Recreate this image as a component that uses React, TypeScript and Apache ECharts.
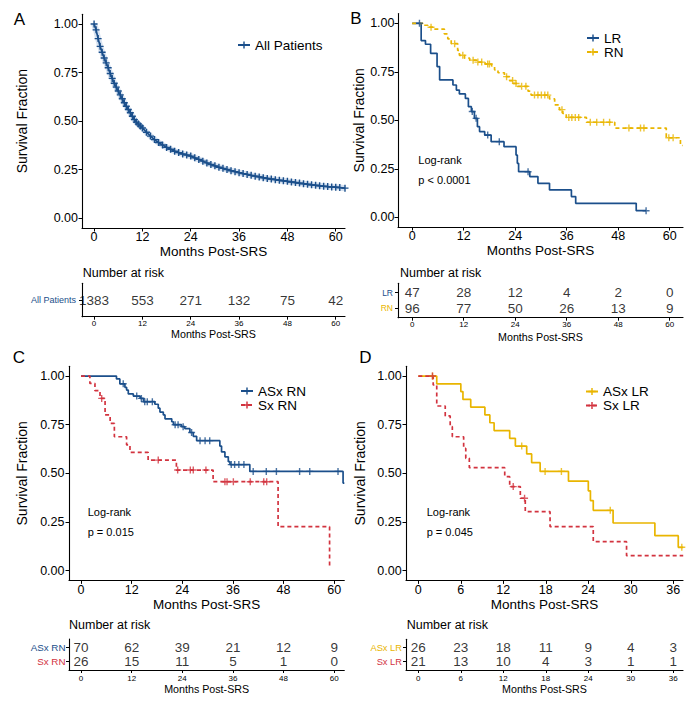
import React, { useEffect, useRef } from "react";
import * as echarts from "echarts";

const BLUE = "#1B4F8B";
const YELLOW = "#E9B500";
const RED = "#D2333F";
const BAND = "#B9CDE6";
const FONT = '"Liberation Sans", Arial, Helvetica, sans-serif';
const PLUS = "path://M4,0H6V4H10V6H6V10H4V6H0V4H4Z";

const ticks60 = [0, 12, 24, 36, 48, 60];
const ticks36 = [0, 6, 12, 18, 24, 30, 36];
const yTicks = [0, 0.25, 0.5, 0.75, 1];

// Panel A
const allPatientsCurve: [number, number][] = [
  [0, 1.0], [0.5, 0.97], [1.0, 0.925], [1.5, 0.885], [2.0, 0.855], [2.5, 0.825], [3.0, 0.8], [3.5, 0.775],
  [4.0, 0.745], [4.5, 0.72], [5.0, 0.695], [5.5, 0.675], [6.0, 0.655], [6.5, 0.635], [7.0, 0.615], [7.5, 0.595],
  [8.0, 0.577], [8.5, 0.56], [9.0, 0.543], [9.5, 0.525], [10.0, 0.508], [10.5, 0.495], [11.0, 0.485], [11.5, 0.475],
  [12.0, 0.465], [13, 0.443], [14, 0.423], [15, 0.405], [16, 0.39], [17, 0.377], [18, 0.365], [19, 0.355],
  [20, 0.345], [21, 0.338], [22, 0.331], [23, 0.326], [24, 0.32], [25, 0.311], [26, 0.303], [27, 0.294], [28, 0.285],
  [29, 0.277], [30, 0.27], [31, 0.263], [32, 0.257], [33, 0.251], [34, 0.245], [35, 0.24], [36, 0.235], [37, 0.23],
  [38, 0.226], [39, 0.221], [40, 0.217], [41, 0.213], [42, 0.209], [43, 0.205], [44, 0.202], [45, 0.199], [46, 0.196],
  [47, 0.193], [48, 0.19], [49, 0.187], [50, 0.184], [51, 0.181], [52, 0.178], [53, 0.175], [54, 0.172], [55, 0.17],
  [56, 0.167], [57, 0.165], [58, 0.163], [59, 0.161], [60, 0.16], [61, 0.158], [62.3, 0.155],
];
const riskAllPatients = [1383, 553, 271, 132, 75, 42];

// Panel B
const lrSteps: [number, number][] = [
  [0, 1], [2.1, 0.911], [3.1, 0.892], [4.3, 0.845], [5.8, 0.777], [6.4, 0.708], [9.5, 0.682], [10.3, 0.656],
  [11.0, 0.636], [12.4, 0.613], [13.1, 0.57], [13.8, 0.545], [14.5, 0.51], [15.2, 0.467], [15.7, 0.442],
  [16.9, 0.424], [18.4, 0.39], [21.4, 0.364], [24.2, 0.321], [24.5, 0.278], [24.8, 0.235], [27.4, 0.21],
  [29.3, 0.175], [32.0, 0.141], [37.1, 0.107], [38.1, 0.072], [52.2, 0.034], [54.5, 0.034],
];
const lrCensor = [1.7, 14.0, 14.9, 17.6, 20.3, 27.0, 54.5];
const rnSteps: [number, number][] = [
  [0, 1], [2.5, 0.99], [3.65, 0.98], [4.8, 0.97], [7.5, 0.945], [8.3, 0.92], [9.1, 0.895], [10.6, 0.86],
  [11.0, 0.835], [12.2, 0.82], [13.4, 0.81], [15.0, 0.8], [17.0, 0.79], [18.5, 0.78], [19.2, 0.76], [20.0, 0.745],
  [21.5, 0.725], [22.7, 0.705], [23.5, 0.69], [24.5, 0.675], [27.0, 0.65], [27.7, 0.63], [32.0, 0.61],
  [33.2, 0.58], [34.3, 0.555], [35.1, 0.535], [35.9, 0.515], [40.6, 0.49], [47.2, 0.46], [59.2, 0.41],
  [62.5, 0.37], [63, 0.37],
];
const rnCensor = [
  4.4, 9.9, 11.8, 14.2, 15.3, 16.2, 17.6, 18.0, 22.0, 23.4, 24.2, 25.5, 26.5, 28.5, 29.3, 30.1, 30.9, 31.6,
  34.9, 36.5, 37.2, 38.0, 38.8, 41.5, 43.0, 44.6, 46.0, 50.5, 53.2, 54.0, 59.8, 60.8,
];
const riskLR = [47, 28, 12, 4, 2, 0];
const riskRN = [96, 77, 50, 26, 13, 9];

// Panel C
const asxRnSteps: [number, number][] = [
  [0, 1], [8.4, 0.985], [9.2, 0.96], [10.4, 0.942], [10.8, 0.928], [11.2, 0.908], [12.4, 0.897], [14.0, 0.885],
  [14.8, 0.868], [17.5, 0.855], [18.3, 0.835], [18.7, 0.815], [19.5, 0.8], [19.9, 0.78], [21.5, 0.765],
  [21.9, 0.75], [23.8, 0.74], [24.6, 0.73], [25.8, 0.71], [26.6, 0.69], [27.4, 0.668], [32.9, 0.64],
  [33.3, 0.61], [34.1, 0.585], [34.9, 0.56], [35.3, 0.545], [40.0, 0.51], [62.1, 0.45], [62.4, 0.45],
];
const asxRnCensor = [
  10.0, 13.2, 14.3, 15.1, 15.7, 16.9, 22.3, 23.0, 24.2, 26.2, 28.2, 29.4, 30.5, 35.6, 36.4, 37.4, 38.6, 40.8,
  43.9, 46.3, 51.8, 54.2, 60.9,
];
const sxRnSteps: [number, number][] = [
  [0, 1], [2.1, 0.962], [3.3, 0.925], [4.5, 0.885], [5.7, 0.8], [6.9, 0.757], [7.9, 0.688], [10.8, 0.646],
  [11.6, 0.608], [15.9, 0.568], [22.6, 0.517], [31.3, 0.457], [46.7, 0.226], [58.9, 0.02],
];
const sxRnCensor = [4.9, 18.3, 22.9, 25.9, 26.6, 29.6, 34.1, 34.6, 36.1, 40.1, 43.3, 44.0];
const riskASxRN = [70, 62, 39, 21, 12, 9];
const riskSxRN = [26, 15, 11, 5, 1, 0];

// Panel D
const asxLrSteps: [number, number][] = [
  [0, 1], [2.6, 0.96], [6.0, 0.92], [6.3, 0.88], [7.4, 0.84], [9.4, 0.8], [10.1, 0.76], [10.7, 0.72],
  [12.9, 0.68], [13.7, 0.64], [15.3, 0.6], [16.0, 0.555], [17.2, 0.51], [21.2, 0.46], [24.0, 0.41],
  [24.3, 0.36], [24.7, 0.31], [27.5, 0.245], [33.4, 0.18], [36.7, 0.12], [37.4, 0.12],
];
const asxLrCensor = [2.0, 14.6, 17.9, 20.2, 27.1, 37.2];
const sxLrSteps: [number, number][] = [
  [0, 1], [2.1, 0.954], [2.6, 0.846], [3.8, 0.795], [4.5, 0.74], [4.8, 0.688], [6.4, 0.628], [6.7, 0.577],
  [7.2, 0.529], [12.2, 0.483], [12.9, 0.432], [14.4, 0.372], [15.1, 0.303], [18.6, 0.226], [24.7, 0.149],
  [29.4, 0.077], [37.4, 0.077],
];
const sxLrCensor = [2.0, 13.4, 15.0];
const riskASxLR = [26, 23, 18, 11, 9, 4, 3];
const riskSxLR = [21, 13, 10, 4, 3, 1, 1];

function stepAt(steps: [number, number][], t: number) {
  let v = steps[0][1];
  for (const [x, y] of steps) {
    if (x <= t) v = y;
    else break;
  }
  return v;
}

type Group = {
  name: string;
  curve: [number, number][];
  censor: number[] | null;
  color: string;
  dashed: boolean;
  risk: number[];
  smooth?: boolean;
};

const panels = [
  {
    letter: "A", letterX: 19.5, letterY: 19,
    grid: { left: 82, top: 14.3, width: 263, height: 213.7 }, xMin: -3.0, xMax: 62.3, ticks: ticks60,
    xLabelMargin: 2.5, xNameGap: 13.5, yNameGap: 53, yLabelMargin: 4,
    legend: { left: 237, top: 38 },
    logrank: null as null | { x: number; y: number; p: string },
    groups: [
      { name: "All Patients", curve: allPatientsCurve, censor: null, color: BLUE, dashed: false, risk: riskAllPatients, smooth: true },
    ] as Group[],
    risk: { left: 82, top: 283.3, width: 263, height: 33.4, labelFont: 9, labelMargin: 6, xLabelMargin: 3, xNameGap: 9, titleX: 82.7, titleY: 273 },
  },
  {
    letter: "B", letterX: 356, letterY: 18,
    grid: { left: 398, top: 13.6, width: 285, height: 213.4 }, xMin: -3.3, xMax: 63.1, ticks: ticks60,
    xLabelMargin: 2.5, xNameGap: 14, yNameGap: 31, yLabelMargin: 3.5,
    legend: { left: 586, top: 31 },
    logrank: { x: 418.3, y: 160, p: "p < 0.0001" },
    groups: [
      { name: "LR", curve: lrSteps, censor: lrCensor, color: BLUE, dashed: false, risk: riskLR },
      { name: "RN", curve: rnSteps, censor: rnCensor, color: YELLOW, dashed: true, risk: riskRN },
    ] as Group[],
    risk: { left: 398, top: 283.3, width: 285, height: 34.4, labelFont: 8.5, labelMargin: 5, xLabelMargin: 3, xNameGap: 13.6, titleX: 400, titleY: 272.7 },
  },
  {
    letter: "C", letterX: 19, letterY: 357.5,
    grid: { left: 69, top: 366.3, width: 275.3, height: 214.1 }, xMin: -2.85, xMax: 62.39, ticks: ticks60,
    xLabelMargin: 3.3, xNameGap: 15.4, yNameGap: 40, yLabelMargin: 4.5,
    legend: { left: 240, top: 384 },
    logrank: { x: 87.7, y: 512.3, p: "p = 0.015" },
    groups: [
      { name: "ASx RN", curve: asxRnSteps, censor: asxRnCensor, color: BLUE, dashed: false, risk: riskASxRN },
      { name: "Sx RN", curve: sxRnSteps, censor: sxRnCensor, color: RED, dashed: true, risk: riskSxRN },
    ] as Group[],
    risk: { left: 69, top: 639, width: 275.3, height: 31, labelFont: 9.8, labelMargin: 3.5, xLabelMargin: 4.5, xNameGap: 13.3, titleX: 69, titleY: 625 },
  },
  {
    letter: "D", letterX: 365.5, letterY: 357.5,
    grid: { left: 406, top: 366.3, width: 277, height: 214.1 }, xMin: -1.74, xMax: 37.37, ticks: ticks36,
    xLabelMargin: 3.3, xNameGap: 15.4, yNameGap: 39, yLabelMargin: 4.3,
    legend: { left: 585, top: 384.5 },
    logrank: { x: 426.7, y: 512.3, p: "p = 0.045" },
    groups: [
      { name: "ASx LR", curve: asxLrSteps, censor: asxLrCensor, color: YELLOW, dashed: false, risk: riskASxLR },
      { name: "Sx LR", curve: sxLrSteps, censor: sxLrCensor, color: RED, dashed: true, risk: riskSxLR },
    ] as Group[],
    risk: { left: 406, top: 639.3, width: 277, height: 30.7, labelFont: 9.3, labelMargin: 4, xLabelMargin: 4.5, xNameGap: 13.3, titleX: 406.7, titleY: 625 },
  },
];

function buildOption() {
  const grid: any[] = [];
  const xAxis: any[] = [];
  const yAxis: any[] = [];
  const series: any[] = [];
  const legend: any[] = [];
  const graphic: any[] = [];
  const axisLine = { show: true, onZero: false, lineStyle: { color: "#000", width: 1.1 } };

  panels.forEach((p) => {
    // main plot
    const gi = grid.length;
    grid.push({ ...p.grid });
    xAxis.push({
      gridIndex: gi, type: "value", min: p.xMin, max: p.xMax,
      axisLine, splitLine: { show: false },
      axisTick: { show: true, length: 3.5, customValues: p.ticks, lineStyle: { color: "#000", width: 1 } },
      axisLabel: { customValues: p.ticks, margin: p.xLabelMargin, fontSize: 12.5, color: "#000", fontFamily: FONT },
      name: "Months Post-SRS", nameLocation: "middle", nameGap: p.xNameGap,
      nameTextStyle: { fontSize: 13.5, color: "#000", fontFamily: FONT },
    });
    yAxis.push({
      gridIndex: gi, type: "value", min: -0.05, max: 1.05,
      axisLine, splitLine: { show: false },
      axisTick: { show: true, length: 3.5, customValues: yTicks, lineStyle: { color: "#000", width: 1 } },
      axisLabel: {
        customValues: yTicks, margin: p.yLabelMargin, fontSize: 12.5, color: "#000", fontFamily: FONT,
        formatter: (v: number) => v.toFixed(2),
      },
      name: "Survival Fraction", nameLocation: "middle", nameGap: p.yNameGap,
      nameTextStyle: { fontSize: 14, color: "#000", fontFamily: FONT },
    });
    p.groups.forEach((g) => {
      if (g.smooth) {
        series.push({
          type: "line", name: g.name + " band", xAxisIndex: gi, yAxisIndex: gi, data: g.curve,
          showSymbol: false, silent: true, z: 1,
          lineStyle: { color: BAND, width: 6, opacity: 0.6 }, itemStyle: { color: BAND },
        });
      }
      series.push({
        type: "line", name: g.name, xAxisIndex: gi, yAxisIndex: gi, data: g.curve,
        step: g.smooth ? false : "end",
        symbol: PLUS, symbolSize: 7, showSymbol: !!g.smooth, z: 2,
        lineStyle: { color: g.color, width: 1.7, type: g.dashed ? [4, 3] : "solid" },
        itemStyle: { color: g.color },
      });
      if (g.censor) {
        series.push({
          type: "scatter", name: g.name + " censored", xAxisIndex: gi, yAxisIndex: gi, z: 3,
          data: g.censor.map((t) => [t, stepAt(g.curve, t)]),
          symbol: PLUS, symbolSize: 7, itemStyle: { color: g.color },
        });
      }
    });
    legend.push({
      data: p.groups.map((g) => g.name), orient: "vertical", left: p.legend.left, top: p.legend.top,
      padding: 0, itemGap: 0, itemWidth: 12, itemHeight: 9, selectedMode: false,
      textStyle: { fontSize: 13.5, lineHeight: 14, color: "#000", fontFamily: FONT },
    });
    graphic.push({
      type: "text", x: p.letterX, y: p.letterY,
      style: { text: p.letter, fontSize: 17, fontFamily: FONT, fill: "#000", align: "center", verticalAlign: "middle" },
    });
    if (p.logrank) {
      graphic.push({
        type: "text", x: p.logrank.x, y: p.logrank.y,
        style: { text: "Log-rank", fontSize: 11, fontFamily: FONT, fill: "#000", align: "left", verticalAlign: "middle" },
      });
      graphic.push({
        type: "text", x: p.logrank.x, y: p.logrank.y + 20,
        style: { text: p.logrank.p, fontSize: 11, fontFamily: FONT, fill: "#000", align: "left", verticalAlign: "middle" },
      });
    }

    // risk table
    const r = p.risk;
    const ri = grid.length;
    grid.push({ left: r.left, top: r.top, width: r.width, height: r.height });
    const nRows = p.groups.length;
    const rowValues = p.groups.map((_, i) => i + 1);
    const rich: any = {};
    p.groups.forEach((g, i) => {
      rich["g" + i] = { color: g.color, fontSize: r.labelFont, fontFamily: FONT };
    });
    xAxis.push({
      gridIndex: ri, type: "value", min: p.xMin, max: p.xMax,
      axisLine, splitLine: { show: false },
      axisTick: { show: true, length: 3, customValues: p.ticks, lineStyle: { color: "#000", width: 1 } },
      axisLabel: { customValues: p.ticks, margin: r.xLabelMargin, fontSize: 8, color: "#000", fontFamily: FONT },
      name: "Months Post-SRS", nameLocation: "middle", nameGap: r.xNameGap,
      nameTextStyle: { fontSize: 10.7, color: "#000", fontFamily: FONT },
    });
    yAxis.push({
      gridIndex: ri, type: "value", min: 0.4, max: nRows + 0.6, inverse: true,
      axisLine, splitLine: { show: false },
      axisTick: { show: true, length: 3, customValues: rowValues, lineStyle: { color: "#000", width: 1 } },
      axisLabel: {
        customValues: rowValues, margin: r.labelMargin, rich,
        formatter: (v: number) => {
          const i = Math.round(v) - 1;
          return p.groups[i] ? `{g${i}|${p.groups[i].name}}` : "";
        },
      },
    });
    const riskData: any[] = [];
    p.groups.forEach((g, gi2) => {
      p.ticks.forEach((t, ti) => riskData.push([t, gi2 + 1, g.risk[ti]]));
    });
    series.push({
      type: "scatter", name: "risk " + p.letter, xAxisIndex: ri, yAxisIndex: ri, data: riskData,
      symbolSize: 0.1, itemStyle: { color: "rgba(0,0,0,0)" }, silent: true,
      label: {
        show: true, position: "inside", formatter: (d: any) => String(d.value[2]),
        fontSize: 13.5, color: "#000", fontFamily: FONT,
      },
    });
    graphic.push({
      type: "text", x: r.titleX, y: r.titleY,
      style: { text: "Number at risk", fontSize: 12.5, fontFamily: FONT, fill: "#000", align: "left", verticalAlign: "middle" },
    });
  });

  return {
    animation: false,
    backgroundColor: "#fff",
    textStyle: { fontFamily: FONT },
    grid, xAxis, yAxis, series, legend, graphic,
  };
}

export default function App() {
  const ref = useRef<HTMLDivElement>(null);
  useEffect(() => {
    document.body.style.margin = "0";
    if (!ref.current) return;
    const chart = echarts.init(ref.current, undefined, { renderer: "svg" });
    chart.setOption(buildOption() as any);
    return () => chart.dispose();
  }, []);
  return <div ref={ref} style={{ width: 689, height: 701 }} />;
}
